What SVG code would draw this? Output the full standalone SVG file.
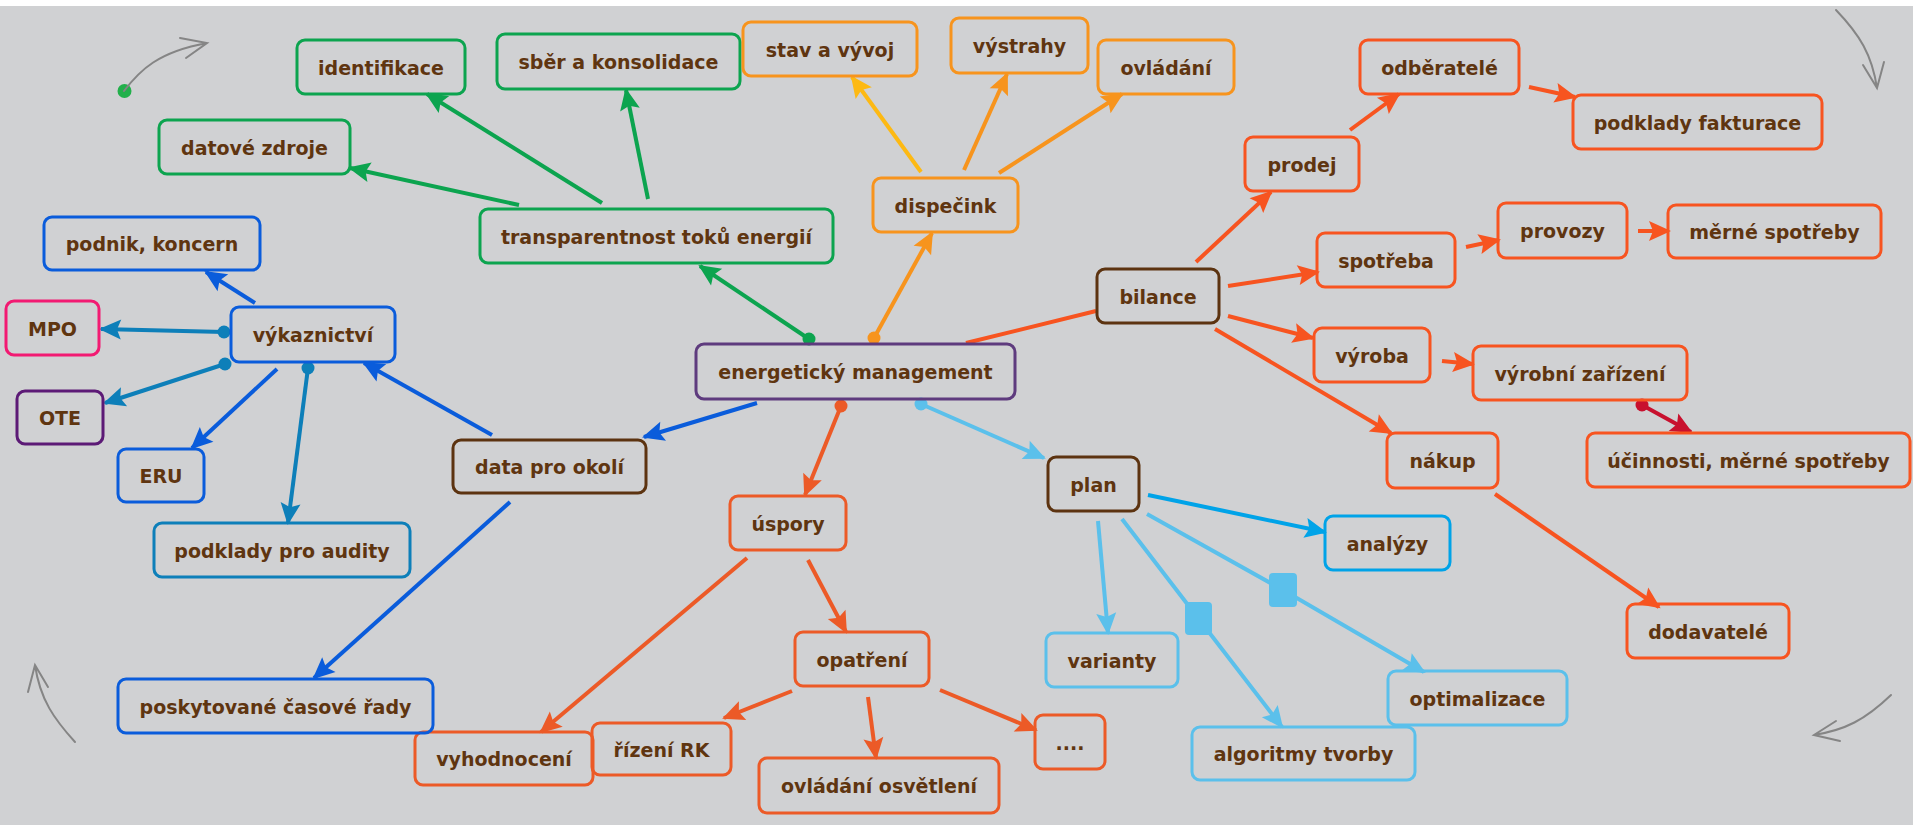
<svg xmlns="http://www.w3.org/2000/svg" width="1913" height="825" viewBox="0 0 1913 825">
<style>
.b{fill:none;stroke-width:3}
.t{font-family:"DejaVu Sans","Liberation Sans",sans-serif;font-weight:bold;font-size:19px;fill:#5f3510;text-anchor:middle}
.c{fill:none;stroke-width:4;stroke-linecap:butt}
.g{stroke:#0ca44f}.o{stroke:#f7941d}.y{stroke:#fdb913}.r{stroke:#f75420}.u{stroke:#ec5a27}.bl{stroke:#0a5cdb}.tl{stroke:#0d7fb9}.lb{stroke:#5bc0eb}.cy{stroke:#00a3e8}.cr{stroke:#c8102e}.br{stroke:#5c3310}.pu{stroke:#5e3b7e}.pk{stroke:#f21a72}.dp{stroke:#5c1a76}
.gray{fill:none;stroke:#858585;stroke-width:2;stroke-linecap:round}
</style>
<defs>
<marker id="a-g" markerUnits="userSpaceOnUse" markerWidth="24" markerHeight="22" refX="20" refY="10" orient="auto" overflow="visible"><path d="M0,0 L22,10 L0,20 L4,10 z" fill="#0ca44f"/></marker>
<marker id="a-o" markerUnits="userSpaceOnUse" markerWidth="24" markerHeight="22" refX="20" refY="10" orient="auto" overflow="visible"><path d="M0,0 L22,10 L0,20 L4,10 z" fill="#f7941d"/></marker>
<marker id="a-y" markerUnits="userSpaceOnUse" markerWidth="24" markerHeight="22" refX="20" refY="10" orient="auto" overflow="visible"><path d="M0,0 L22,10 L0,20 L4,10 z" fill="#fdb913"/></marker>
<marker id="a-r" markerUnits="userSpaceOnUse" markerWidth="24" markerHeight="22" refX="20" refY="10" orient="auto" overflow="visible"><path d="M0,0 L22,10 L0,20 L4,10 z" fill="#f75420"/></marker>
<marker id="a-u" markerUnits="userSpaceOnUse" markerWidth="24" markerHeight="22" refX="20" refY="10" orient="auto" overflow="visible"><path d="M0,0 L22,10 L0,20 L4,10 z" fill="#ec5a27"/></marker>
<marker id="a-bl" markerUnits="userSpaceOnUse" markerWidth="24" markerHeight="22" refX="20" refY="10" orient="auto" overflow="visible"><path d="M0,0 L22,10 L0,20 L4,10 z" fill="#0a5cdb"/></marker>
<marker id="a-tl" markerUnits="userSpaceOnUse" markerWidth="24" markerHeight="22" refX="20" refY="10" orient="auto" overflow="visible"><path d="M0,0 L22,10 L0,20 L4,10 z" fill="#0d7fb9"/></marker>
<marker id="a-lb" markerUnits="userSpaceOnUse" markerWidth="24" markerHeight="22" refX="20" refY="10" orient="auto" overflow="visible"><path d="M0,0 L22,10 L0,20 L4,10 z" fill="#5bc0eb"/></marker>
<marker id="a-cy" markerUnits="userSpaceOnUse" markerWidth="24" markerHeight="22" refX="20" refY="10" orient="auto" overflow="visible"><path d="M0,0 L22,10 L0,20 L4,10 z" fill="#00a3e8"/></marker>
<marker id="a-cr" markerUnits="userSpaceOnUse" markerWidth="24" markerHeight="22" refX="20" refY="10" orient="auto" overflow="visible"><path d="M0,0 L22,10 L0,20 L4,10 z" fill="#c8102e"/></marker>
<marker id="d-g" markerUnits="userSpaceOnUse" markerWidth="16" markerHeight="16" refX="8" refY="8" overflow="visible"><circle cx="8" cy="8" r="6.5" fill="#0ca44f"/></marker>
<marker id="d-o" markerUnits="userSpaceOnUse" markerWidth="16" markerHeight="16" refX="8" refY="8" overflow="visible"><circle cx="8" cy="8" r="6.5" fill="#f7941d"/></marker>
<marker id="d-u" markerUnits="userSpaceOnUse" markerWidth="16" markerHeight="16" refX="8" refY="8" overflow="visible"><circle cx="8" cy="8" r="6.5" fill="#ec5a27"/></marker>
<marker id="d-lb" markerUnits="userSpaceOnUse" markerWidth="16" markerHeight="16" refX="8" refY="8" overflow="visible"><circle cx="8" cy="8" r="6.5" fill="#5bc0eb"/></marker>
<marker id="d-tl" markerUnits="userSpaceOnUse" markerWidth="16" markerHeight="16" refX="8" refY="8" overflow="visible"><circle cx="8" cy="8" r="6.5" fill="#0d7fb9"/></marker>
<marker id="d-cr" markerUnits="userSpaceOnUse" markerWidth="16" markerHeight="16" refX="8" refY="8" overflow="visible"><circle cx="8" cy="8" r="6.5" fill="#c8102e"/></marker>
</defs>
<rect x="0" y="0" width="1913" height="825" fill="#d0d1d3"/>
<rect x="0" y="0" width="1913" height="6" fill="#ffffff"/>

<g id="decor">
<circle cx="124.5" cy="91" r="7" fill="#22b04b"/>
<path class="gray" d="M124,91 C140,70 158,52 207,43 M180,38 L207,43 L186,58"/>
<path class="gray" d="M1836,10 C1860,35 1872,55 1877,88 M1863,65 L1877,88 L1884,62"/>
<path class="gray" d="M1891,695 C1865,720 1845,730 1814,735 M1836,721 L1814,735 L1840,741"/>
<path class="gray" d="M75,742 C55,720 40,700 35,665 M28,692 L35,665 L48,687"/>
</g>

<g id="connectors">
<path class="c g" stroke-width="3.5" d="M809,339 L700,266" marker-start="url(#d-g)" marker-end="url(#a-g)"/>
<path class="c g" d="M519,205 L350,168" marker-end="url(#a-g)"/>
<path class="c g" d="M602,203 L427,94" marker-end="url(#a-g)"/>
<path class="c g" d="M648,199 L626,90" marker-end="url(#a-g)"/>
<path class="c o" stroke-width="3.5" d="M874,338 L932,233" marker-start="url(#d-o)" marker-end="url(#a-o)"/>
<path class="c y" d="M921,172 L852,77" marker-end="url(#a-y)"/>
<path class="c o" d="M964,170 L1007,74" marker-end="url(#a-o)"/>
<path class="c o" d="M999,173 L1122,94" marker-end="url(#a-o)"/>
<path class="c r" d="M1096,311 L966,343"/>
<path class="c r" d="M1196,262 L1271,192" marker-end="url(#a-r)"/>
<path class="c r" d="M1350,130 L1399,94" marker-end="url(#a-r)"/>
<path class="c r" d="M1529,87 L1575,97" marker-end="url(#a-r)"/>
<path class="c r" d="M1228,286 L1318,272" marker-end="url(#a-r)"/>
<path class="c r" d="M1466,247 L1499,240" marker-end="url(#a-r)"/>
<path class="c r" d="M1638,231 L1669,231" marker-end="url(#a-r)"/>
<path class="c r" d="M1228,316 L1313,338" marker-end="url(#a-r)"/>
<path class="c r" d="M1442,361 L1473,364" marker-end="url(#a-r)"/>
<path class="c cr" stroke-width="3" d="M1642,405 L1691,432" marker-start="url(#d-cr)" marker-end="url(#a-cr)"/>
<path class="c r" d="M1215,329 L1391,433" marker-end="url(#a-r)"/>
<path class="c r" d="M1495,494 L1659,607" marker-end="url(#a-r)"/>
<path class="c u" stroke-width="3.5" d="M841,406 L805,495" marker-start="url(#d-u)" marker-end="url(#a-u)"/>
<path class="c u" d="M808,560 L846,632" marker-end="url(#a-u)"/>
<path class="c u" d="M747,558 L541,732" marker-end="url(#a-u)"/>
<path class="c u" d="M792,691 L724,718" marker-end="url(#a-u)"/>
<path class="c u" d="M868,697 L876,758" marker-end="url(#a-u)"/>
<path class="c u" d="M940,690 L1036,730" marker-end="url(#a-u)"/>
<path class="c bl" d="M757,403 L644,437" marker-end="url(#a-bl)"/>
<path class="c bl" d="M492,435 L364,363" marker-end="url(#a-bl)"/>
<path class="c bl" d="M510,502 L314,678" marker-end="url(#a-bl)"/>
<path class="c bl" d="M255,303 L206,272" marker-end="url(#a-bl)"/>
<path class="c bl" d="M277,369 L192,448" marker-end="url(#a-bl)"/>
<path class="c tl" stroke-width="3.5" d="M224,332 L101,329" marker-start="url(#d-tl)" marker-end="url(#a-tl)"/>
<path class="c tl" stroke-width="3.5" d="M225,364 L105,403" marker-start="url(#d-tl)" marker-end="url(#a-tl)"/>
<path class="c tl" stroke-width="3.5" d="M308,368 L288,523" marker-start="url(#d-tl)" marker-end="url(#a-tl)"/>
<path class="c lb" d="M921,404 L1044,458" marker-start="url(#d-lb)" marker-end="url(#a-lb)"/>
<path class="c lb" stroke-width="3" d="M1098,521 L1108,633" marker-end="url(#a-lb)"/>
<path class="c lb" stroke-width="3" d="M1122,519 L1198,618 L1282,727" marker-end="url(#a-lb)"/>
<path class="c lb" stroke-width="3" d="M1147,514 L1283,590 L1424,672" marker-end="url(#a-lb)"/>
<rect x="1185" y="602" width="27" height="33" rx="4" fill="#5bc0eb"/>
<rect x="1269" y="573" width="28" height="34" rx="4" fill="#5bc0eb"/>
<path class="c cy" stroke-width="4.5" d="M1148,495 L1325,532" marker-end="url(#a-cy)"/>
</g>

<g id="n_em"><rect class="b pu" x="696" y="344" width="319" height="55" rx="8"/><text class="t" x="855.5" y="379">energetický management</text></g>
<g id="n_transp"><rect class="b g" x="480" y="209" width="353" height="54" rx="8"/><text class="t" x="656.5" y="243.5">transparentnost toků energií</text></g>
<g id="n_identifikace"><rect class="b g" x="297" y="40" width="168" height="54" rx="8"/><text class="t" x="381" y="74.5">identifikace</text></g>
<g id="n_sber"><rect class="b g" x="497" y="34" width="243" height="55" rx="8"/><text class="t" x="618.5" y="69">sběr a konsolidace</text></g>
<g id="n_datove"><rect class="b g" x="159" y="120" width="191" height="54" rx="8"/><text class="t" x="254.5" y="154.5">datové zdroje</text></g>
<g id="n_dispecink"><rect class="b o" x="873" y="178" width="145" height="54" rx="8"/><text class="t" x="945.5" y="212.5">dispečink</text></g>
<g id="n_stav"><rect class="b o" x="743" y="22" width="174" height="54" rx="8"/><text class="t" x="830" y="56.5">stav a vývoj</text></g>
<g id="n_vystrahy"><rect class="b o" x="951" y="18" width="137" height="55" rx="8"/><text class="t" x="1019.5" y="53">výstrahy</text></g>
<g id="n_ovladani"><rect class="b o" x="1098" y="40" width="136" height="54" rx="8"/><text class="t" x="1166" y="74.5">ovládání</text></g>
<g id="n_bilance"><rect class="b br" x="1097" y="269" width="122" height="54" rx="8"/><text class="t" x="1158" y="303.5">bilance</text></g>
<g id="n_prodej"><rect class="b r" x="1245" y="137" width="114" height="54" rx="8"/><text class="t" x="1302" y="171.5">prodej</text></g>
<g id="n_odberatele"><rect class="b r" x="1360" y="40" width="159" height="54" rx="8"/><text class="t" x="1439.5" y="74.5">odběratelé</text></g>
<g id="n_podklady_fakturace"><rect class="b r" x="1573" y="95" width="249" height="54" rx="8"/><text class="t" x="1697.5" y="129.5">podklady fakturace</text></g>
<g id="n_spotreba"><rect class="b r" x="1317" y="233" width="138" height="54" rx="8"/><text class="t" x="1386" y="267.5">spotřeba</text></g>
<g id="n_provozy"><rect class="b r" x="1498" y="203" width="129" height="55" rx="8"/><text class="t" x="1562.5" y="238">provozy</text></g>
<g id="n_merne"><rect class="b r" x="1668" y="205" width="213" height="53" rx="8"/><text class="t" x="1774.5" y="239">měrné spotřeby</text></g>
<g id="n_vyroba"><rect class="b r" x="1314" y="328" width="116" height="54" rx="8"/><text class="t" x="1372" y="362.5">výroba</text></g>
<g id="n_vyrobni"><rect class="b r" x="1473" y="346" width="214" height="54" rx="8"/><text class="t" x="1580" y="380.5">výrobní zařízení</text></g>
<g id="n_ucinnosti"><rect class="b r" x="1587" y="433" width="323" height="54" rx="8"/><text class="t" x="1748.5" y="467.5">účinnosti, měrné spotřeby</text></g>
<g id="n_nakup"><rect class="b r" x="1387" y="433" width="111" height="55" rx="8"/><text class="t" x="1442.5" y="468">nákup</text></g>
<g id="n_dodavatele"><rect class="b r" x="1627" y="604" width="162" height="54" rx="8"/><text class="t" x="1708" y="638.5">dodavatelé</text></g>
<g id="n_plan"><rect class="b br" x="1048" y="457" width="91" height="54" rx="8"/><text class="t" x="1093.5" y="491.5">plan</text></g>
<g id="n_analyzy"><rect class="b cy" x="1325" y="516" width="125" height="54" rx="8"/><text class="t" x="1387.5" y="550.5">analýzy</text></g>
<g id="n_varianty"><rect class="b lb" x="1046" y="633" width="132" height="54" rx="8"/><text class="t" x="1112" y="667.5">varianty</text></g>
<g id="n_optimalizace"><rect class="b lb" x="1388" y="671" width="179" height="54" rx="8"/><text class="t" x="1477.5" y="705.5">optimalizace</text></g>
<g id="n_algoritmy"><rect class="b lb" x="1192" y="727" width="223" height="53" rx="8"/><text class="t" x="1303.5" y="761">algoritmy tvorby</text></g>
<g id="n_uspory"><rect class="b u" x="730" y="496" width="116" height="54" rx="8"/><text class="t" x="788" y="530.5">úspory</text></g>
<g id="n_opatreni"><rect class="b u" x="795" y="632" width="134" height="54" rx="8"/><text class="t" x="862" y="666.5">opatření</text></g>
<g id="n_vyhodnoceni"><rect class="b u" x="415" y="732" width="178" height="53" rx="8"/><text class="t" x="504" y="766">vyhodnocení</text></g>
<g id="n_rizeni"><rect class="b u" x="592" y="723" width="139" height="52" rx="8"/><text class="t" x="661.5" y="756.5">řízení RK</text></g>
<g id="n_osvetleni"><rect class="b u" x="759" y="758" width="240" height="55" rx="8"/><text class="t" x="879" y="793">ovládání osvětlení</text></g>
<g id="n_dots"><rect class="b u" x="1035" y="715" width="70" height="54" rx="8"/><text class="t" x="1070" y="749.5">....</text></g>
<g id="n_data"><rect class="b br" x="453" y="440" width="193" height="53" rx="8"/><text class="t" x="549.5" y="474">data pro okolí</text></g>
<g id="n_vykaznictvi"><rect class="b bl" x="231" y="307" width="164" height="55" rx="8"/><text class="t" x="313" y="342">výkaznictví</text></g>
<g id="n_podnik"><rect class="b bl" x="44" y="217" width="216" height="53" rx="8"/><text class="t" x="152" y="251">podnik, koncern</text></g>
<g id="n_mpo"><rect class="b pk" x="6" y="301" width="93" height="54" rx="8"/><text class="t" x="52.5" y="335.5">MPO</text></g>
<g id="n_ote"><rect class="b dp" x="17" y="391" width="86" height="53" rx="8"/><text class="t" x="60" y="425">OTE</text></g>
<g id="n_eru"><rect class="b bl" x="118" y="449" width="86" height="53" rx="8"/><text class="t" x="161" y="483">ERU</text></g>
<g id="n_audity"><rect class="b tl" x="154" y="523" width="256" height="54" rx="8"/><text class="t" x="282" y="557.5">podklady pro audity</text></g>
<g id="n_poskytovane"><rect class="b bl" x="118" y="679" width="315" height="54" rx="8"/><text class="t" x="275.5" y="713.5">poskytované časové řady</text></g>
</svg>
